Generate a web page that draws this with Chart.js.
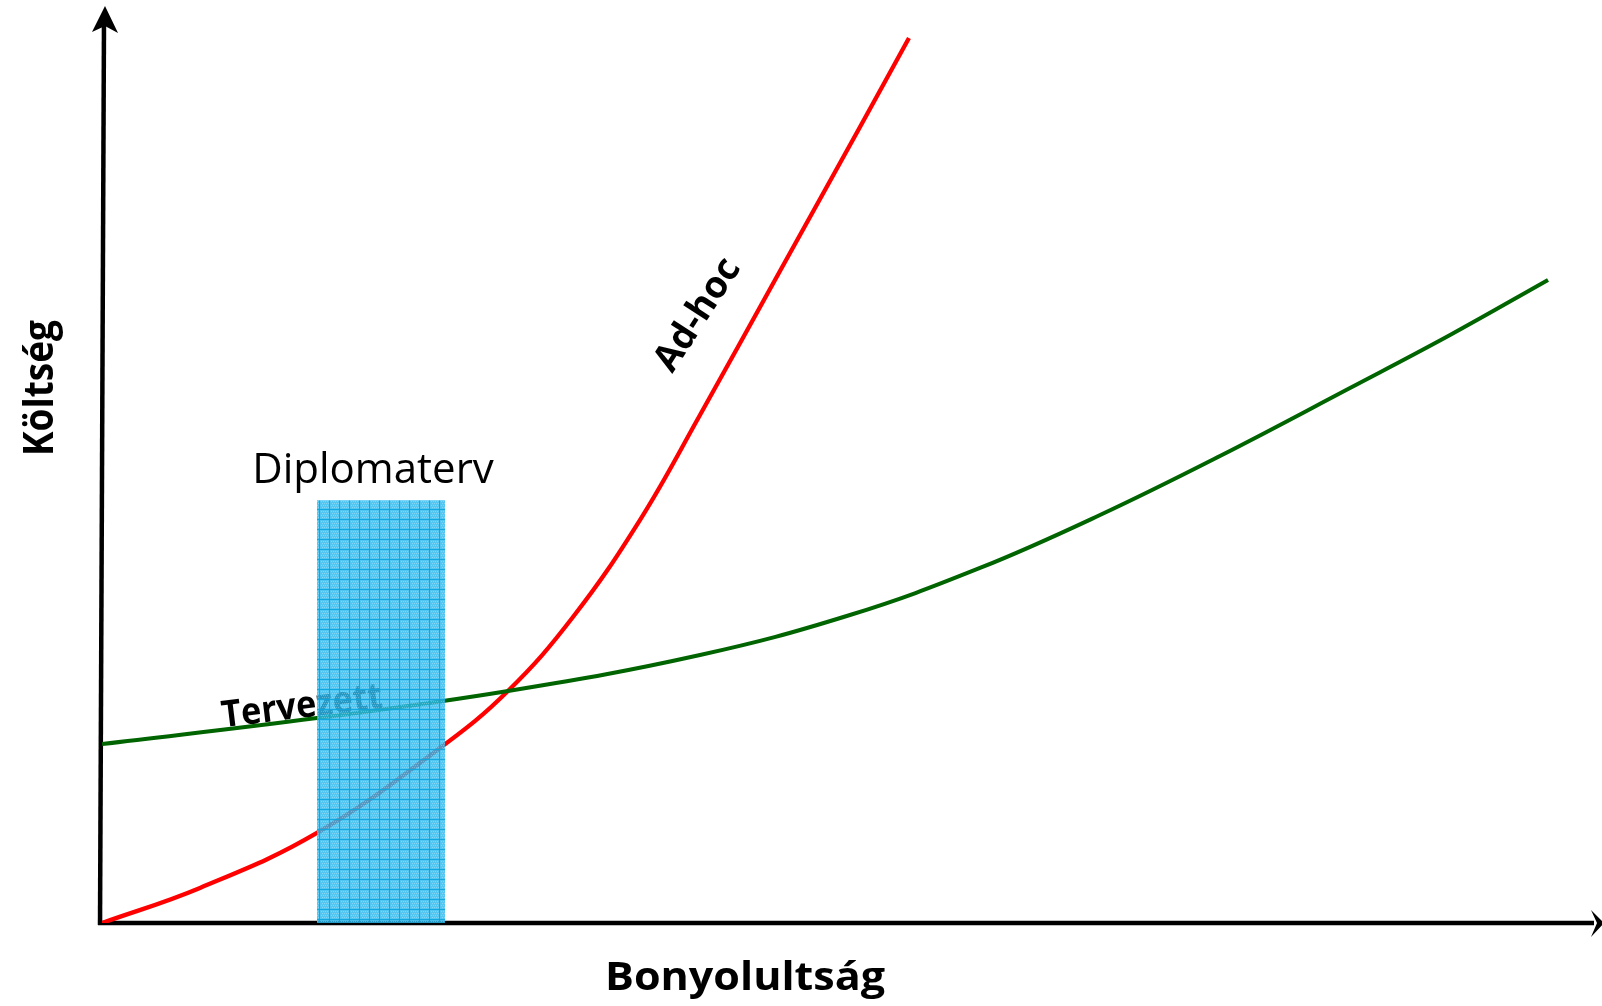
<!DOCTYPE html>
<html>
<head>
<meta charset="utf-8">
<script src="https://cdn.jsdelivr.net/npm/chart.js@4/dist/chart.umd.min.js"></script>
<style>
  html, body { margin: 0; padding: 0; background: #fff; }
  canvas { display: block; }
</style>
</head>
<body>
<canvas id="myChart" width="1602" height="1006"></canvas>
<script>
// Ad-hoc (red) curve
const adHocX = [0, 6.54, 14.35, 22.56, 27.1, 31.44, 35.91, 39.92, 45.26, 50.6, 53.87];
const adHocY = [0, 3.83, 9.84, 19.13, 25.36, 33.44, 44.04, 55.52, 71.26, 87.0, 96.72];

// Tervezett (green) curve
const tervezettX = [0, 14.35, 27.1, 39.92, 49.93, 58.61, 66.62, 74.63, 83.31, 89.99, 96.53];
const tervezettY = [19.56, 22.4, 25.36, 29.29, 33.66, 38.8, 44.59, 51.04, 58.47, 64.26, 70.27];

// Diplomaterv band
const diplomatervX = [14.35, 22.9];
const diplomatervY = [46.2, 46.2];

const toPoints = (xs, ys) => xs.map((x, i) => ({ x: x, y: ys[i] }));

// blue grid pattern for the band
function makePattern() {
  const tile = document.createElement('canvas');
  tile.width = 10;
  tile.height = 10;
  const t = tile.getContext('2d');
  t.fillStyle = 'rgba(45,185,238,0.82)';
  t.fillRect(0, 0, 10, 10);
  t.fillStyle = 'rgba(255,255,255,0.28)';
  for (let i = 1; i < 9; i += 2) {
    for (let j = 1; j < 9; j += 2) {
      t.fillRect(i + (j % 4 === 1 ? 0 : 1), j, 1, 1);
    }
  }
  t.fillStyle = 'rgba(10,165,222,0.9)';
  t.fillRect(9, 0, 1, 10);
  t.fillRect(0, 9, 10, 1);
  return tile.getContext('2d').createPattern(tile, 'repeat');
}

const bandPattern = makePattern();

// axes, arrows and labels
const decorations = {
  id: 'decorations',
  beforeDatasetsDraw(chart) {
    const ctx = chart.ctx;
    const xs = chart.scales.x;
    ctx.save();

    // axes
    ctx.strokeStyle = '#000';
    ctx.fillStyle = '#000';
    ctx.lineWidth = 4.5;
    ctx.beginPath();
    ctx.moveTo(100, 925);
    ctx.lineTo(104, 20);
    ctx.stroke();
    ctx.beginPath();
    ctx.moveTo(98, 923);
    ctx.lineTo(1594, 923);
    ctx.stroke();

    // y arrow head
    ctx.beginPath();
    ctx.moveTo(105, 6);
    ctx.lineTo(118, 33);
    ctx.lineTo(105, 26);
    ctx.lineTo(92, 32);
    ctx.closePath();
    ctx.fill();

    // x arrow head
    ctx.beginPath();
    ctx.moveTo(1604, 923);
    ctx.lineTo(1591, 937);
    ctx.lineTo(1597, 923);
    ctx.lineTo(1591, 910);
    ctx.closePath();
    ctx.fill();

    // axis titles
    ctx.font = 'bold 40px "Open Sans"';
    ctx.textAlign = 'center';
    ctx.textBaseline = 'alphabetic';
    let w = ctx.measureText('Bonyolultság').width;
    ctx.save();
    ctx.translate(745, 990);
    ctx.scale(280 / w, 1);
    ctx.fillText('Bonyolultság', 0, 0);
    ctx.restore();

    ctx.save();
    ctx.translate(53, 388);
    ctx.rotate(-Math.PI / 2);
    ctx.font = 'bold 42px "Open Sans"';
    w = ctx.measureText('Költség').width;
    ctx.scale(136 / w, 1);
    ctx.fillText('Költség', 0, 0);
    ctx.restore();

    // Diplomaterv
    ctx.font = '42px "Open Sans"';
    ctx.fillText('Diplomaterv', xs.getPixelForValue((diplomatervX[0] + diplomatervX[1]) / 2) - 8, 483);

    // Tervezett
    ctx.save();
    ctx.translate(302, 707);
    ctx.rotate(-7 * Math.PI / 180);
    ctx.font = 'bold 37px "Open Sans"';
    ctx.textBaseline = 'middle';
    w = ctx.measureText('Tervezett').width;
    ctx.scale(162 / w, 1);
    ctx.fillText('Tervezett', 0, 0);
    ctx.restore();

    // Ad-hoc
    ctx.save();
    ctx.translate(698, 315);
    ctx.rotate(-57 * Math.PI / 180);
    ctx.font = 'bold 37px "Open Sans"';
    ctx.textBaseline = 'middle';
    ctx.fillText('Ad-hoc', 0, 0);
    ctx.restore();

    ctx.restore();
  }
};

const ctx = document.getElementById('myChart').getContext('2d');

new Chart(ctx, {
  type: 'line',
  data: {
    datasets: [
      {
        label: 'Diplomaterv',
        data: toPoints(diplomatervX, diplomatervY),
        borderWidth: 0,
        borderColor: 'rgba(0,0,0,0)',
        backgroundColor: bandPattern,
        fill: 'origin',
        pointRadius: 0,
        tension: 0
      },
      {
        label: 'Tervezett',
        data: toPoints(tervezettX, tervezettY),
        borderColor: '#006400',
        borderWidth: 4,
        fill: false,
        pointRadius: 0,
        tension: 0.4
      },
      {
        label: 'Ad-hoc',
        data: toPoints(adHocX, adHocY),
        borderColor: '#ff0000',
        borderWidth: 4.3,
        fill: false,
        pointRadius: 0,
        tension: 0.4
      }
    ]
  },
  options: {
    responsive: false,
    animation: false,
    layout: {
      padding: { left: 102, right: 2, top: 8, bottom: 83 }
    },
    scales: {
      x: { type: 'linear', min: 0, max: 100, display: false },
      y: { type: 'linear', min: 0, max: 100, display: false }
    },
    plugins: {
      legend: { display: false },
      tooltip: { enabled: false }
    }
  },
  plugins: [decorations]
});
</script>
</body>
</html>
